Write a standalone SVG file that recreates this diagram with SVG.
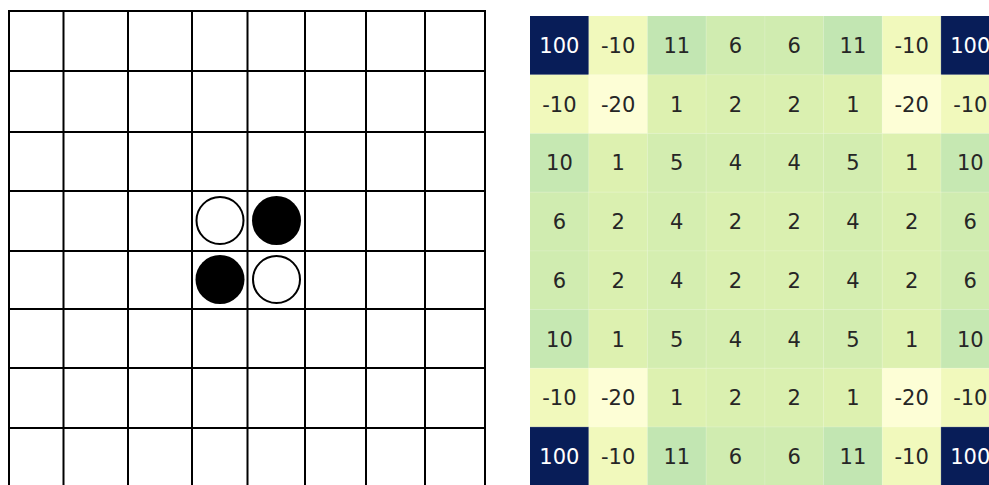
<svg xmlns="http://www.w3.org/2000/svg" width="989" height="485" viewBox="0 0 989 485">
<style>
.g{stroke:#000;stroke-width:2;fill:none}
.wd{fill:#fff;stroke:#000;stroke-width:2}
.bd{fill:#000}
.t{font-family:"DejaVu Sans",sans-serif;font-size:21px;fill:#262626;text-anchor:middle}
.tw{fill:#ffffff}
.sep{stroke:#ffffff;stroke-opacity:0.2;stroke-width:1}
</style>
<rect width="989" height="485" fill="#fff"/>
<g id="board">
<g class="g">
<line x1="9" y1="11" x2="9" y2="485"/>
<line x1="63.5" y1="11" x2="63.5" y2="485"/>
<line x1="128" y1="11" x2="128" y2="485"/>
<line x1="192" y1="11" x2="192" y2="485"/>
<line x1="247.5" y1="11" x2="247.5" y2="485"/>
<line x1="305" y1="11" x2="305" y2="485"/>
<line x1="366" y1="11" x2="366" y2="485"/>
<line x1="425" y1="11" x2="425" y2="485"/>
<line x1="485" y1="11" x2="485" y2="485"/>
<line x1="8" y1="11" x2="486" y2="11"/>
<line x1="8" y1="71" x2="486" y2="71"/>
<line x1="8" y1="132" x2="486" y2="132"/>
<line x1="8" y1="191" x2="486" y2="191"/>
<line x1="8" y1="251" x2="486" y2="251"/>
<line x1="8" y1="309" x2="486" y2="309"/>
<line x1="8" y1="368" x2="486" y2="368"/>
<line x1="8" y1="428" x2="486" y2="428"/>
</g>
<g id="disc-d4"><circle class="wd" cx="220" cy="220.5" r="23.5"/></g>
<g id="disc-e4"><circle class="bd" cx="276.5" cy="220.5" r="24.5"/></g>
<g id="disc-d5"><circle class="bd" cx="220" cy="279.5" r="24.5"/></g>
<g id="disc-e5"><circle class="wd" cx="276.5" cy="279.5" r="23.5"/></g>
</g>
<g id="heatmap">
<defs>
<g id="rowA">
<rect x="0" y="0" width="59" height="59" fill="#081d58"/>
<rect x="58.7" y="0" width="59" height="59" fill="#f1f9bc"/>
<rect x="117.4" y="0" width="59" height="59" fill="#c2e6b2"/>
<rect x="176.1" y="0" width="59" height="59" fill="#d0ecb0"/>
<rect x="234.8" y="0" width="59" height="59" fill="#d0ecb0"/>
<rect x="293.5" y="0" width="59" height="59" fill="#c2e6b2"/>
<rect x="352.2" y="0" width="59" height="59" fill="#f1f9bc"/>
<rect x="410.9" y="0" width="59" height="59" fill="#081d58"/>
</g>
<g id="rowB">
<rect x="0" y="0" width="59" height="59" fill="#f1f9bc"/>
<rect x="58.7" y="0" width="59" height="59" fill="#fdfed6"/>
<rect x="117.4" y="0" width="59" height="59" fill="#ddf1b0"/>
<rect x="176.1" y="0" width="59" height="59" fill="#daf0b0"/>
<rect x="234.8" y="0" width="59" height="59" fill="#daf0b0"/>
<rect x="293.5" y="0" width="59" height="59" fill="#ddf1b0"/>
<rect x="352.2" y="0" width="59" height="59" fill="#fdfed6"/>
<rect x="410.9" y="0" width="59" height="59" fill="#f1f9bc"/>
</g>
<g id="rowC">
<rect x="0" y="0" width="59" height="59" fill="#c6e8b2"/>
<rect x="58.7" y="0" width="59" height="59" fill="#ddf1b0"/>
<rect x="117.4" y="0" width="59" height="59" fill="#d3edb0"/>
<rect x="176.1" y="0" width="59" height="59" fill="#d5eeb0"/>
<rect x="234.8" y="0" width="59" height="59" fill="#d5eeb0"/>
<rect x="293.5" y="0" width="59" height="59" fill="#d3edb0"/>
<rect x="352.2" y="0" width="59" height="59" fill="#ddf1b0"/>
<rect x="410.9" y="0" width="59" height="59" fill="#c6e8b2"/>
</g>
<g id="rowD">
<rect x="0" y="0" width="59" height="59" fill="#d0ecb0"/>
<rect x="58.7" y="0" width="59" height="59" fill="#daf0b0"/>
<rect x="117.4" y="0" width="59" height="59" fill="#d5eeb0"/>
<rect x="176.1" y="0" width="59" height="59" fill="#daf0b0"/>
<rect x="234.8" y="0" width="59" height="59" fill="#daf0b0"/>
<rect x="293.5" y="0" width="59" height="59" fill="#d5eeb0"/>
<rect x="352.2" y="0" width="59" height="59" fill="#daf0b0"/>
<rect x="410.9" y="0" width="59" height="59" fill="#d0ecb0"/>
</g>
</defs>
<use href="#rowA" x="530" y="16"/>
<use href="#rowB" x="530" y="74.7"/>
<use href="#rowC" x="530" y="133.4"/>
<use href="#rowD" x="530" y="192.1"/>
<use href="#rowD" x="530" y="250.8"/>
<use href="#rowC" x="530" y="309.5"/>
<use href="#rowB" x="530" y="368.2"/>
<use href="#rowA" x="530" y="426.9"/>
<g class="sep">
<line x1="588.7" y1="16" x2="588.7" y2="485"/>
<line x1="647.4" y1="16" x2="647.4" y2="485"/>
<line x1="706.1" y1="16" x2="706.1" y2="485"/>
<line x1="764.8" y1="16" x2="764.8" y2="485"/>
<line x1="823.5" y1="16" x2="823.5" y2="485"/>
<line x1="882.2" y1="16" x2="882.2" y2="485"/>
<line x1="940.9" y1="16" x2="940.9" y2="485"/>
<line x1="530" y1="74.7" x2="989" y2="74.7"/>
<line x1="530" y1="133.4" x2="989" y2="133.4"/>
<line x1="530" y1="192.1" x2="989" y2="192.1"/>
<line x1="530" y1="250.8" x2="989" y2="250.8"/>
<line x1="530" y1="309.5" x2="989" y2="309.5"/>
<line x1="530" y1="368.2" x2="989" y2="368.2"/>
<line x1="530" y1="426.9" x2="989" y2="426.9"/>
</g>
<g class="t">
<text x="559.4" y="53" class="t tw">100</text><text x="618.1" y="53">-10</text><text x="676.8" y="53">11</text><text x="735.5" y="53">6</text><text x="794.2" y="53">6</text><text x="852.9" y="53">11</text><text x="911.6" y="53">-10</text><text x="970.3" y="53" class="t tw">100</text>
<text x="559.4" y="111.7">-10</text><text x="618.1" y="111.7">-20</text><text x="676.8" y="111.7">1</text><text x="735.5" y="111.7">2</text><text x="794.2" y="111.7">2</text><text x="852.9" y="111.7">1</text><text x="911.6" y="111.7">-20</text><text x="970.3" y="111.7">-10</text>
<text x="559.4" y="170.4">10</text><text x="618.1" y="170.4">1</text><text x="676.8" y="170.4">5</text><text x="735.5" y="170.4">4</text><text x="794.2" y="170.4">4</text><text x="852.9" y="170.4">5</text><text x="911.6" y="170.4">1</text><text x="970.3" y="170.4">10</text>
<text x="559.4" y="229.1">6</text><text x="618.1" y="229.1">2</text><text x="676.8" y="229.1">4</text><text x="735.5" y="229.1">2</text><text x="794.2" y="229.1">2</text><text x="852.9" y="229.1">4</text><text x="911.6" y="229.1">2</text><text x="970.3" y="229.1">6</text>
<text x="559.4" y="287.8">6</text><text x="618.1" y="287.8">2</text><text x="676.8" y="287.8">4</text><text x="735.5" y="287.8">2</text><text x="794.2" y="287.8">2</text><text x="852.9" y="287.8">4</text><text x="911.6" y="287.8">2</text><text x="970.3" y="287.8">6</text>
<text x="559.4" y="346.5">10</text><text x="618.1" y="346.5">1</text><text x="676.8" y="346.5">5</text><text x="735.5" y="346.5">4</text><text x="794.2" y="346.5">4</text><text x="852.9" y="346.5">5</text><text x="911.6" y="346.5">1</text><text x="970.3" y="346.5">10</text>
<text x="559.4" y="405.2">-10</text><text x="618.1" y="405.2">-20</text><text x="676.8" y="405.2">1</text><text x="735.5" y="405.2">2</text><text x="794.2" y="405.2">2</text><text x="852.9" y="405.2">1</text><text x="911.6" y="405.2">-20</text><text x="970.3" y="405.2">-10</text>
<text x="559.4" y="463.9" class="t tw">100</text><text x="618.1" y="463.9">-10</text><text x="676.8" y="463.9">11</text><text x="735.5" y="463.9">6</text><text x="794.2" y="463.9">6</text><text x="852.9" y="463.9">11</text><text x="911.6" y="463.9">-10</text><text x="970.3" y="463.9" class="t tw">100</text>
</g>
</g>
</svg>
